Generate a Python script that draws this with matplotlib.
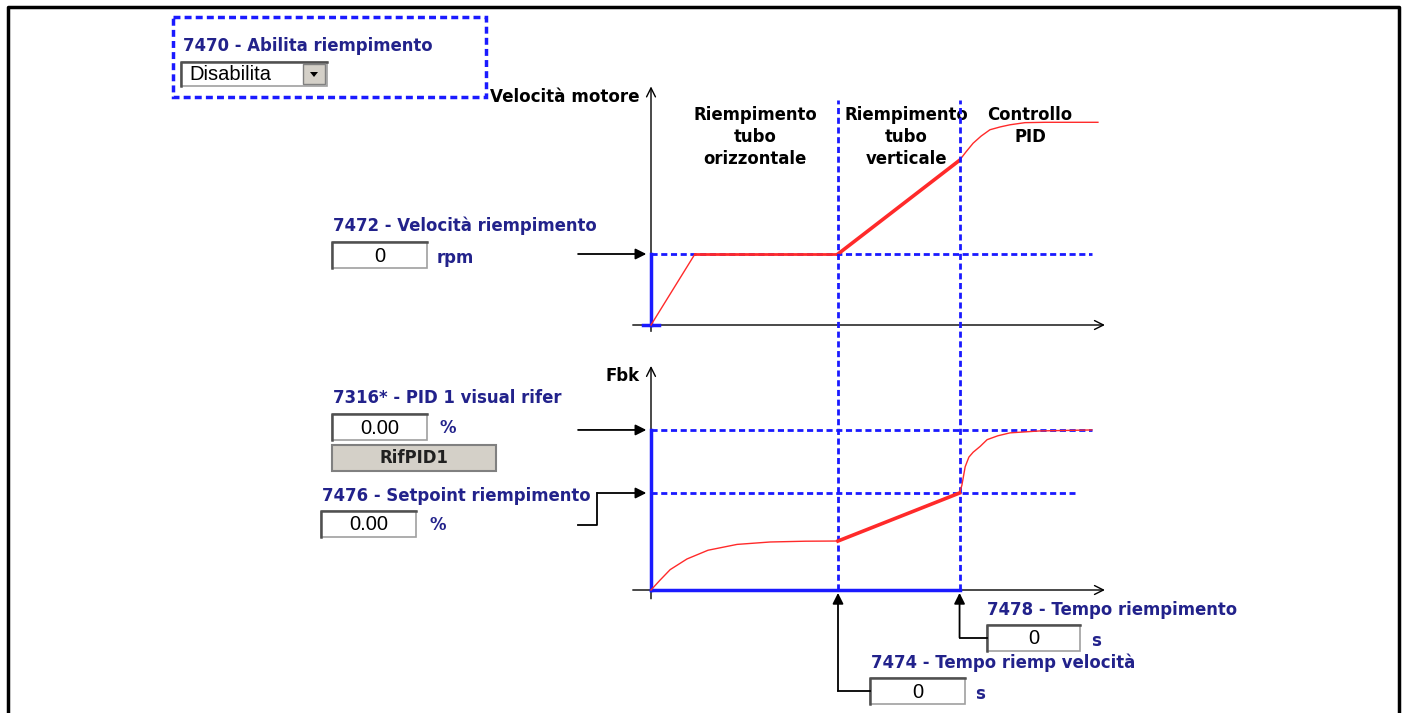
import matplotlib
matplotlib.use("Agg")
import matplotlib.pyplot as plt
from matplotlib.patches import Rectangle, Polygon

# ---- data (time in arbitrary units, levels normalised) ----
T_FILL_H = 4.0          # end of horizontal pipe filling
T_FILL_V = 6.6          # end of vertical pipe filling
SPEED_FILL = 1.0        # 7472 fill speed level
FBK_SETPOINT = 1.0      # 7476 fill setpoint
FBK_REF = 1.65          # 7316 PID reference

SPD_ACC_T = [0.0, 0.94]
SPD_ACC_V = [0.0, 1.0]
SPD_FLAT_T = [0.94, 4.0]
SPD_FLAT_V = [1.0, 1.0]
SPD_RAMP_T = [4.0, 6.6]
SPD_RAMP_V = [1.0, 2.32]
SPD_PID_T = [6.6, 6.74, 6.89, 7.06, 7.25, 7.47, 7.68, 8.0, 8.43, 9.56]
SPD_PID_V = [2.32, 2.44, 2.56, 2.66, 2.75, 2.79, 2.82, 2.85, 2.855, 2.855]

FBK_RISE_T = [0.0, 0.19, 0.41, 0.77, 1.22, 1.84, 2.55, 3.3, 4.0]
FBK_RISE_V = [0.0, 0.10, 0.21, 0.32, 0.41, 0.47, 0.495, 0.503, 0.505]
FBK_RAMP_T = [4.0, 6.6]
FBK_RAMP_V = [0.505, 1.0]
FBK_PID_T = [6.6, 6.65, 6.72, 6.80, 6.89, 7.04, 7.19, 7.42, 7.68, 8.32, 9.43]
FBK_PID_V = [1.0, 1.08, 1.27, 1.37, 1.42, 1.48, 1.55, 1.59, 1.62, 1.64, 1.65]

# ---- layout (pixels) ----
W, H = 1413, 713
X0, KX = 651, 46.75
Y0_SPD, K_SPD = 325, 71
Y0_FBK, K_FBK = 590, 97

NAVY = "#22228b"
BLUE = "#1a1aff"
RED = "#ff2a2a"
GREY = "#d4d0c8"
FS = 11.9

fig = plt.figure(figsize=(W / 100, H / 100), dpi=100)

bg = fig.add_axes([0, 0, 1, 1])
bg.set_xlim(0, W)
bg.set_ylim(H, 0)
bg.axis("off")


def overlay(y0, ky):
    ax = fig.add_axes([0, 0, 1, 1])
    ax.set_xlim(-X0 / KX, (W - X0) / KX)
    ax.set_ylim((y0 - H) / ky, y0 / ky)
    ax.axis("off")
    ax.patch.set_alpha(0)
    return ax


ax1 = overlay(Y0_SPD, K_SPD)
ax2 = overlay(Y0_FBK, K_FBK)

# outer frame
bg.plot([8, 8, 1399, 1399], [H, 7, 7, H], color="k", lw=2.5)

# ---- helpers ----
dash = dict(color=BLUE, lw=2.0, ls=(0, (2.2, 1.3)), zorder=4)
blue = dict(color=BLUE, lw=2.5, zorder=5)


def axis_arrow(ax, p0, p1):
    ax.annotate("", xy=p1, xytext=p0, zorder=1,
                arrowprops=dict(arrowstyle="->", color="k", lw=1.0,
                                mutation_scale=16, shrinkA=0, shrinkB=0))


def solid_arrow(ax, p0, p1):
    ax.annotate("", xy=p1, xytext=p0, zorder=6,
                arrowprops=dict(arrowstyle="-|>", color="k", lw=1.3,
                                mutation_scale=16, shrinkA=0, shrinkB=0))


def entry(x0, y0, x1, y1, val):
    bg.add_patch(Rectangle((x0, y0), x1 - x0, y1 - y0, fc="white",
                           ec="#a0a0a0", lw=1.2))
    bg.plot([x0, x0, x1], [y1, y0, y0], color="#505050", lw=1.8)
    bg.text((x0 + x1) / 2, (y0 + y1) / 2 + 1, val, ha="center", va="center",
            family="Liberation Sans", fontsize=14.5, color="k")


def label(x, y, s, color=NAVY, **kw):
    bg.text(x, y, s, ha="left", va="center", fontsize=FS,
            fontweight="bold", color=color, **kw)


# ---- upper plot: motor speed ----
axis_arrow(ax1, (-0.39, 0), (9.71, 0))
axis_arrow(ax1, (0, -0.09), (0, 3.36))
ax1.plot([0, 0], [0, SPEED_FILL], **blue)
ax1.plot([-0.17, 0.17], [0, 0], **blue)
ax1.plot([0, 9.43], [SPEED_FILL, SPEED_FILL], **dash)
solid_arrow(ax1, (-1.56, SPEED_FILL), (-0.1, SPEED_FILL))

ax1.plot(SPD_ACC_T, SPD_ACC_V, color=RED, lw=1.0, zorder=6)
ax1.plot(SPD_FLAT_T, SPD_FLAT_V, color=RED, lw=2.0, zorder=6)
ax1.plot(SPD_RAMP_T, SPD_RAMP_V, color=RED, lw=2.6, zorder=6)
ax1.plot(SPD_PID_T, SPD_PID_V, color=RED, lw=1.0, zorder=6)

# ---- lower plot: feedback ----
axis_arrow(ax2, (-0.39, 0), (9.71, 0))
axis_arrow(ax2, (0, -0.09), (0, 2.31))
ax2.plot([0, 0], [0, FBK_REF], **blue)
ax2.plot([0, T_FILL_V], [0, 0], **blue)
ax2.plot([0, 9.43], [FBK_REF, FBK_REF], **dash)
ax2.plot([0, 9.06], [FBK_SETPOINT, FBK_SETPOINT], **dash)
for t in (T_FILL_H, T_FILL_V):
    ax2.plot([t, t], [0, 5.05], **dash)

solid_arrow(ax2, (-1.56, FBK_REF), (-0.1, FBK_REF))
ax2.plot([-1.56, -1.15, -1.15], [0.67, 0.67, FBK_SETPOINT], color="k", lw=1.3)
solid_arrow(ax2, (-1.15, FBK_SETPOINT), (-0.1, FBK_SETPOINT))

ax2.plot([4.68, T_FILL_H], [-1.04, -1.04], color="k", lw=1.3)
solid_arrow(ax2, (T_FILL_H, -1.04), (T_FILL_H, -0.03))
ax2.plot([7.19, T_FILL_V], [-0.49, -0.49], color="k", lw=1.3)
solid_arrow(ax2, (T_FILL_V, -0.49), (T_FILL_V, -0.03))

ax2.plot(FBK_RISE_T, FBK_RISE_V, color=RED, lw=1.0, zorder=6)
ax2.plot(FBK_RAMP_T, FBK_RAMP_V, color=RED, lw=2.6, zorder=6)
ax2.plot(FBK_PID_T, FBK_PID_V, color=RED, lw=1.0, zorder=6)

# ---- texts on the plots ----
bg.text(640, 97, "Velocità motore", ha="right", va="center", fontsize=FS + 0.2,
        fontweight="bold", color="k")
bg.text(640, 376, "Fbk", ha="right", va="center", fontsize=FS,
        fontweight="bold", color="k")
for cx, s in [(755, "Riempimento\ntubo\norizzontale"),
              (906, "Riempimento\ntubo\nverticale"),
              (1030, "Controllo\nPID")]:
    bg.text(cx, 106, s, ha="center", va="top", fontsize=FS,
            fontweight="bold", color="k", linespacing=1.28)

# ---- UI widgets ----
bg.add_patch(Rectangle((173, 17), 313, 80, fill=False, ec=BLUE, lw=2.5,
                       ls=(0, (2.0, 1.2))))
label(183, 46, "7470 - Abilita riempimento")
bg.add_patch(Rectangle((181, 62), 146, 24, fc="white", ec="#a0a0a0", lw=1.2))
bg.plot([181, 181, 327], [86, 62, 62], color="#505050", lw=1.8)
bg.add_patch(Rectangle((303, 64), 22, 20, fc=GREY, ec="#808080", lw=1))
bg.add_patch(Polygon([[310, 72], [318, 72], [314, 77]], closed=True, fc="k"))
bg.text(189, 74, "Disabilita", ha="left", va="center",
        family="Liberation Sans", fontsize=14.5, color="k")

label(333, 226, "7472 - Velocità riempimento")
entry(332, 242, 427, 268, "0")
label(437, 258, "rpm")

label(333, 398, "7316* - PID 1 visual rifer")
entry(332, 414, 427, 440, "0.00")
label(440, 428, "%")
bg.add_patch(Rectangle((332, 445), 164, 26, fc=GREY, ec="#808080", lw=1.5))
bg.text(414, 458, "RifPID1", ha="center", va="center", fontsize=FS,
        fontweight="bold", color="#202020")

label(322, 496, "7476 - Setpoint riempimento")
entry(321, 511, 416, 537, "0.00")
label(430, 525, "%")

label(987, 610, "7478 - Tempo riempimento")
entry(987, 625, 1080, 651, "0")
label(1091, 641, "s")

label(871, 663, "7474 - Tempo riemp velocità")
entry(870, 678, 965, 704, "0")
label(975, 694, "s")

fig.savefig("out.png", dpi=100)
